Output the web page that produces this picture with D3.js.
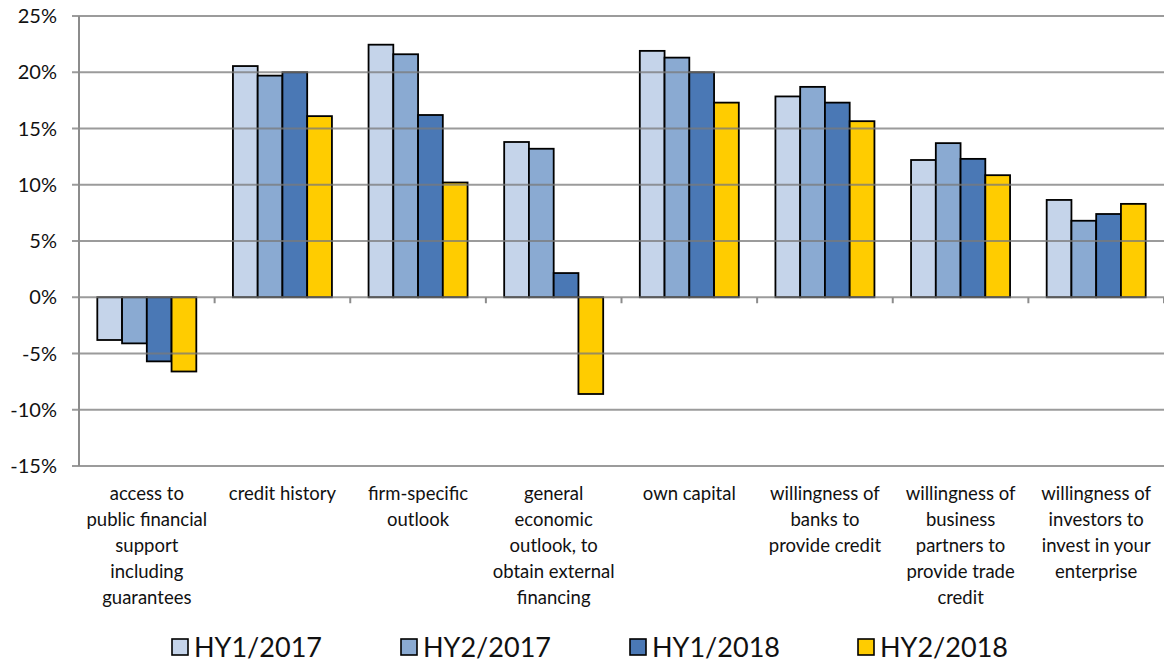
<!DOCTYPE html>
<html>
<head>
<meta charset="utf-8">
<script src="https://cdn.jsdelivr.net/npm/d3@7"></script>
<style>
  body { margin: 0; background: #fff; }
  svg { display: block; font-family: Lato, "Open Sans", sans-serif; }
</style>
</head>
<body>
<div id="chart"></div>
<script>
const categories = [
  ["access to", "public financial", "support", "including", "guarantees"],
  ["credit history"],
  ["firm-specific", "outlook"],
  ["general", "economic", "outlook, to", "obtain external", "financing"],
  ["own capital"],
  ["willingness of", "banks to", "provide credit"],
  ["willingness of", "business", "partners to", "provide trade", "credit"],
  ["willingness of", "investors to", "invest in your", "enterprise"]
];
const seriesNames = ["HY1/2017", "HY2/2017", "HY1/2018", "HY2/2018"];
const seriesColors = ["#c5d4ea", "#8aaad2", "#4a78b5", "#ffcc00"];
const hy1_2017 = [-3.8, 20.55, 22.45, 13.8, 21.9, 17.85, 12.2, 8.65];
const hy2_2017 = [-4.1, 19.7, 21.6, 13.2, 21.3, 18.7, 13.7, 6.8];
const hy1_2018 = [-5.7, 20.0, 16.2, 2.15, 20.0, 17.3, 12.3, 7.4];
const hy2_2018 = [-6.6, 16.1, 10.2, -8.6, 17.3, 15.65, 10.85, 8.3];
const yTicks = [-15, -10, -5, 0, 5, 10, 15, 20, 25];

const series = [hy1_2017, hy2_2017, hy1_2018, hy2_2018];
const width = 1164, height = 669;
const plotLeft = 79, plotRight = 1164, plotTop = 16, plotBottom = 466;

const svg = d3.select("#chart").append("svg")
  .attr("width", width).attr("height", height);

const y = d3.scaleLinear().domain([-15, 25]).range([plotBottom, plotTop]);
const x0 = d3.scaleBand().domain(d3.range(categories.length)).range([plotLeft, plotRight]);
const pad = x0.bandwidth() * 0.135;
const x1 = d3.scaleBand().domain(d3.range(series.length)).range([pad, x0.bandwidth() - pad]);

// y tick labels
svg.append("g").selectAll("text").data(yTicks).join("text")
  .attr("x", 57).attr("y", d => y(d))
  .attr("dy", "0.35em")
  .attr("text-anchor", "end")
  .style("font-size", "20px")
  .attr("fill", "#111")
  .text(d => d + "%");

// bars
const groups = svg.append("g").selectAll("g").data(categories).join("g")
  .attr("transform", (d, i) => `translate(${x0(i)},0)`);

groups.selectAll("rect")
  .data((d, i) => series.map((s, j) => ({ j, v: s[i] })))
  .join("rect")
  .attr("x", d => x1(d.j))
  .attr("width", x1.bandwidth())
  .attr("y", d => y(Math.max(0, d.v)))
  .attr("height", d => Math.abs(y(d.v) - y(0)))
  .attr("fill", d => seriesColors[d.j])
  .attr("stroke", "#000")
  .attr("stroke-width", 1.8);

// gridlines drawn over bars, semi-transparent
svg.append("g").selectAll("line").data(yTicks).join("line")
  .attr("x1", plotLeft - 7).attr("x2", plotRight)
  .attr("y1", d => y(d)).attr("y2", d => y(d))
  .attr("stroke", "#7a7a7a")
  .attr("stroke-opacity", 0.75)
  .attr("stroke-width", 2);

// y axis line
svg.append("line")
  .attr("x1", plotLeft).attr("x2", plotLeft)
  .attr("y1", plotTop).attr("y2", plotBottom)
  .attr("stroke", "#8c8c8c").attr("stroke-width", 2);

// category ticks on zero line
svg.append("g").selectAll("line").data(d3.range(1, categories.length + 1)).join("line")
  .attr("x1", i => plotLeft + i * x0.bandwidth())
  .attr("x2", i => plotLeft + i * x0.bandwidth())
  .attr("y1", y(0)).attr("y2", y(0) + 6)
  .attr("stroke", "#8c8c8c").attr("stroke-width", 2);

// category labels
svg.append("g").selectAll("text").data(categories).join("text")
  .attr("text-anchor", "middle")
  .attr("transform", (d, i) => `translate(${x0(i) + x0.bandwidth() / 2},500)`)
  .style("font-size", "18.5px")
  .attr("fill", "#111")
  .selectAll("tspan").data(d => d).join("tspan")
  .attr("x", 0).attr("y", (d, k) => k * 26)
  .text(d => d);

// legend
const legendX = [172, 401, 630, 858];
const legend = svg.append("g").selectAll("g").data(seriesNames).join("g")
  .attr("transform", (d, i) => `translate(${legendX[i]},647)`);
legend.append("rect")
  .attr("x", 0).attr("y", -8).attr("width", 16).attr("height", 16)
  .attr("fill", (d, i) => seriesColors[i])
  .attr("stroke", "#000").attr("stroke-width", 1.6);
legend.append("text")
  .attr("x", 22).attr("dy", "0.36em")
  .style("font-size", "27px")
  .attr("fill", "#111")
  .text(d => d);
</script>
</body>
</html>
